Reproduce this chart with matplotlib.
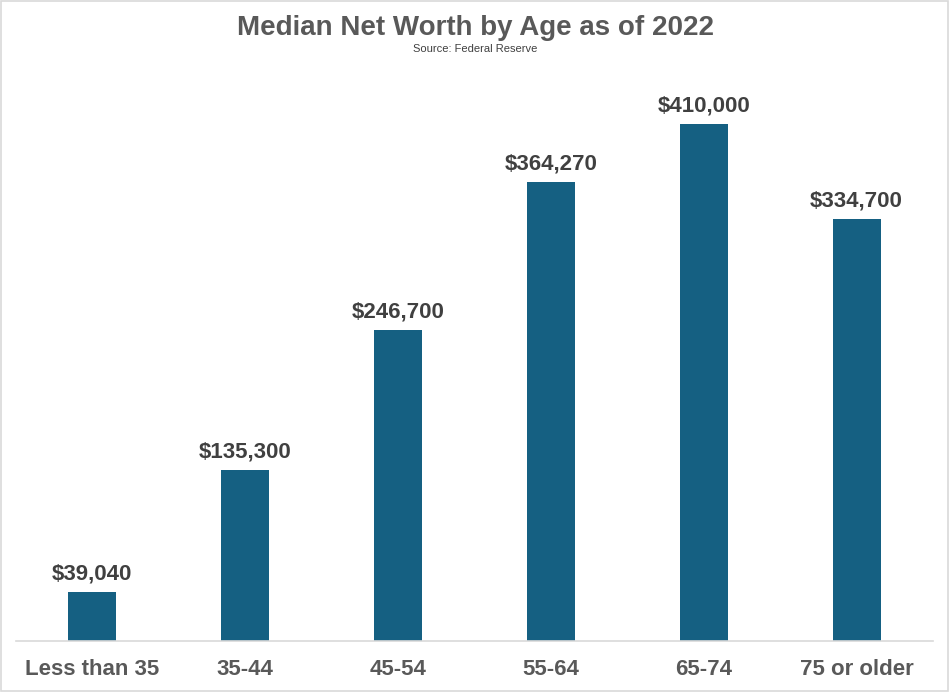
import matplotlib.pyplot as plt
from matplotlib.patches import Rectangle

ages = ['Less than 35', '35-44', '45-54', '55-64', '65-74', '75 or older']
net_worth = [39040, 135300, 246700, 364270, 410000, 334700]

plt.rcParams['font.family'] = ['Liberation Sans', 'DejaVu Sans']

fig = plt.figure(figsize=(9.51, 6.92), dpi=100)
ax = fig.add_axes([16 / 951, 51 / 692, 917 / 951, 571 / 692])

x = range(len(ages))
bars = ax.bar(x, net_worth, width=0.315, color='#156082', zorder=2)
for rect, v in zip(bars, net_worth):
    ax.annotate(f'${v:,.0f}', (rect.get_x() + rect.get_width() / 2, v),
                xytext=(0, 5.5), textcoords='offset points', ha='center', va='bottom',
                fontsize=16, fontweight='bold', color='#404040')

ax.set_xlim(-0.5, 5.5)
ax.set_ylim(0, 452800)
ax.set_xticks(list(x))
ax.set_xticklabels(ages, fontsize=16, fontweight='bold', color='#595959')
ax.tick_params(axis='x', length=0, pad=13)
ax.set_yticks([])
for s in ['top', 'right', 'left']:
    ax.spines[s].set_visible(False)
ax.spines['bottom'].set_color('#D9D9D9')
ax.spines['bottom'].set_linewidth(1.2)

fig.text(0.5, 1 - 28 / 692, 'Median Net Worth by Age as of 2022', ha='center', va='center',
         fontsize=20, fontweight='bold', color='#595959')
fig.text(0.5, 1 - 49 / 692, 'Source: Federal Reserve', ha='center', va='center',
         fontsize=8, color='#404040')

fig.patches.append(Rectangle((0.001, 0.002), 0.996, 0.996, transform=fig.transFigure,
                             fill=False, edgecolor='#D9D9D9', linewidth=1.2))

fig.savefig('out.png', dpi=100)
